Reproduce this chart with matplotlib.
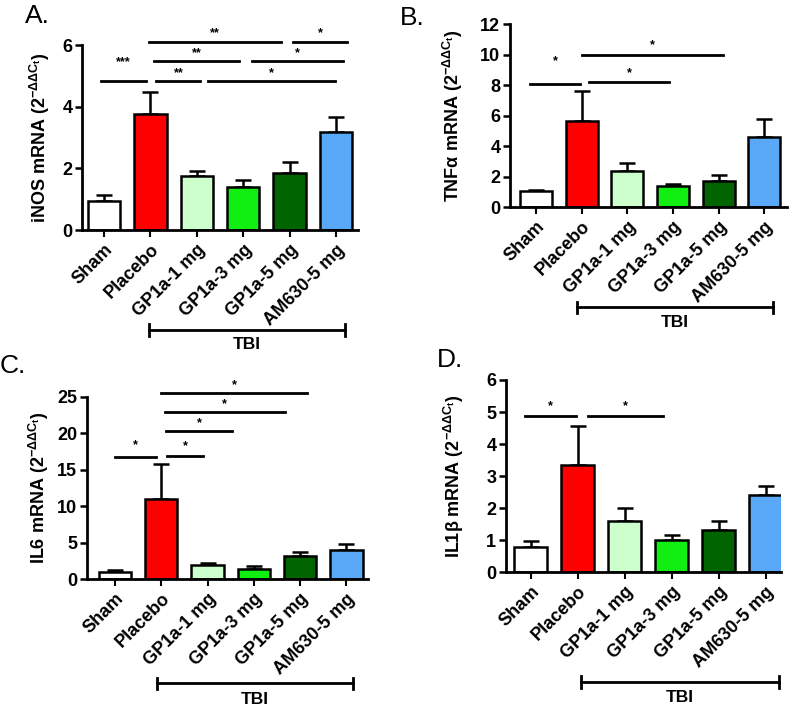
import numpy as np
import matplotlib
matplotlib.use('Agg')
import matplotlib.pyplot as plt
import matplotlib.transforms as mtransforms

plt.rcParams['font.family'] = ['Liberation Sans', 'DejaVu Sans']
plt.rcParams['font.weight'] = 'bold'
plt.rcParams['mathtext.fontset'] = 'custom'
plt.rcParams['mathtext.rm'] = 'Liberation Sans:bold'
plt.rcParams['mathtext.it'] = 'Liberation Sans:bold'
plt.rcParams['mathtext.bf'] = 'Liberation Sans:bold'

groups = ['Sham', 'Placebo', 'GP1a-1 mg', 'GP1a-3 mg', 'GP1a-5 mg', 'AM630-5 mg']
bar_colors = ['#FFFFFF', '#FF0000', '#CCFFCC', '#11EE11', '#006400', '#5AA8F8']

# mean and SEM (upper error only) per panel
inos_mean = [0.96, 3.78, 1.76, 1.41, 1.84, 3.18]
inos_err = [0.17, 0.69, 0.15, 0.23, 0.37, 0.49]
tnf_mean = [1.05, 5.65, 2.40, 1.38, 1.72, 4.62]
tnf_err = [0.08, 1.95, 0.52, 0.12, 0.37, 1.15]
il6_mean = [1.05, 11.0, 1.98, 1.45, 3.20, 3.95]
il6_err = [0.25, 4.8, 0.30, 0.30, 0.60, 0.85]
il1b_mean = [0.80, 3.35, 1.60, 1.00, 1.32, 2.40]
il1b_err = [0.19, 1.20, 0.40, 0.16, 0.27, 0.29]

# significance lines: (start, end, height, label, label height)
inos_sig = [(-0.07, 0.91, 4.83, '***', 5.25), (1.13, 2.08, 4.83, '**', 4.9),
            (2.25, 4.98, 4.83, '*', 4.9),
            (1.08, 2.91, 5.48, '**', 5.55), (3.18, 5.14, 5.48, '*', 5.55),
            (0.97, 3.81, 6.11, '**', 6.18), (4.08, 5.23, 6.11, '*', 6.18)]
tnf_sig = [(-0.13, 0.96, 8.07, '*', 9.2), (1.17, 2.92, 8.2, '*', 8.4),
           (1.0, 4.09, 10.0, '*', 10.2)]
il6_sig = [(0.0, 0.88, 16.8, '*', 17.5), (1.13, 1.9, 16.9, '*', 17.4),
           (1.11, 2.53, 20.3, '*', 20.6), (1.07, 3.67, 22.95, '*', 23.2),
           (1.0, 4.16, 25.5, '*', 25.8)]
il1b_sig = [(-0.13, 0.95, 4.88, '*', 5.0), (1.22, 2.81, 4.88, '*', 5.0)]

panels = [
    dict(letter='A.', mean=inos_mean, err=inos_err, sig=inos_sig,
         ylabel=r'iNOS mRNA (2$^{-\Delta\Delta C_t}$)', yticks=[0, 2, 4, 6],
         rect=[0.1025, 0.674, 0.345, 0.262], xlim=(-0.47, 5.47), ylab_x=-0.11,
         tbi=(0.97, 5.2, -0.54, -0.62), letter_xy=(25, 23)),
    dict(letter='B.', mean=tnf_mean, err=tnf_err, sig=tnf_sig,
         ylabel='TNF\u03b1 mRNA (2$^{-\\Delta\\Delta C_t}$)', yticks=list(range(0, 13, 2)),
         rect=[0.6375, 0.7064, 0.346, 0.2596], xlim=(-0.57, 5.49), ylab_x=-0.162,
         tbi=(0.89, 5.18, -0.546, -0.63), letter_xy=(400, 25)),
    dict(letter='C.', mean=il6_mean, err=il6_err, sig=il6_sig,
         ylabel=r'IL6 mRNA (2$^{-\Delta\Delta C_t}$)', yticks=list(range(0, 26, 5)),
         rect=[0.1085, 0.1795, 0.351, 0.2587], xlim=(-0.61, 5.46), ylab_x=-0.127,
         tbi=(0.91, 5.14, -0.57, -0.66), letter_xy=(0, 373)),
    dict(letter='D.', mean=il1b_mean, err=il1b_err, sig=il1b_sig,
         ylabel='IL1\u03b2 mRNA (2$^{-\\Delta\\Delta C_t}$)', yticks=list(range(0, 7)),
         rect=[0.6325, 0.1894, 0.344, 0.2724], xlim=(-0.53, 5.33), ylab_x=-0.145,
         tbi=(1.07, 5.28, -0.57, -0.65), letter_xy=(437, 367)),
]

W, H = 800, 706
fig = plt.figure(figsize=(W / 100, H / 100), dpi=100)

for p in panels:
    ax = fig.add_axes(p['rect'])
    x = np.arange(len(groups))
    ax.errorbar(x, p['mean'], yerr=[np.zeros(len(x)), p['err']], fmt='none',
                ecolor='black', elinewidth=1.8, capsize=6, capthick=1.8, zorder=1)
    ax.bar(x, p['mean'], width=0.7, color=bar_colors, edgecolor='black',
           linewidth=1.8, zorder=2)
    ax.set_xlim(*p['xlim'])
    ax.set_ylim(0, p['yticks'][-1])
    ax.set_yticks(p['yticks'])
    ax.set_xticks(x)
    ax.set_xticklabels(groups, rotation=45, ha='right', rotation_mode='anchor',
                       fontsize=13, fontweight='bold')
    ax.tick_params(axis='y', labelsize=13, width=1.8, length=5, pad=2)
    ax.tick_params(axis='x', width=1.5, length=5, pad=3)
    for t in ax.get_yticklabels():
        t.set_fontweight('bold')
    for s in ['top', 'right']:
        ax.spines[s].set_visible(False)
    for s in ['left', 'bottom']:
        ax.spines[s].set_linewidth(2)
    ax.set_ylabel(p['ylabel'], fontsize=13, fontweight='bold')
    ax.yaxis.set_label_coords(p['ylab_x'], 0.5)

    for x0, x1, y, lab, ly in p['sig']:
        ax.plot([x0, x1], [y, y], color='black', lw=2, clip_on=False)
        ax.text((x0 + x1) / 2, ly, lab, ha='center', va='bottom', fontsize=9,
                fontweight='bold', clip_on=False)

    # TBI bracket below the treated groups
    bx0, bx1, by, ty = p['tbi']
    trans = mtransforms.blended_transform_factory(ax.transData, ax.transAxes)
    ax.plot([bx0, bx1], [by, by], color='black', lw=2, transform=trans, clip_on=False)
    for bx in (bx0, bx1):
        ax.plot([bx, bx], [by - 0.03, by + 0.03], color='black', lw=2,
                transform=trans, clip_on=False)
    ax.text((bx0 + bx1) / 2, ty, 'TBI', transform=trans, ha='center', va='center',
            fontsize=12.5, fontweight='bold')

    lx, ly = p['letter_xy']
    fig.text(lx / W, 1 - ly / H, p['letter'], fontsize=19, fontweight='normal',
             ha='left', va='baseline')

fig.savefig('out.png', dpi=100)
